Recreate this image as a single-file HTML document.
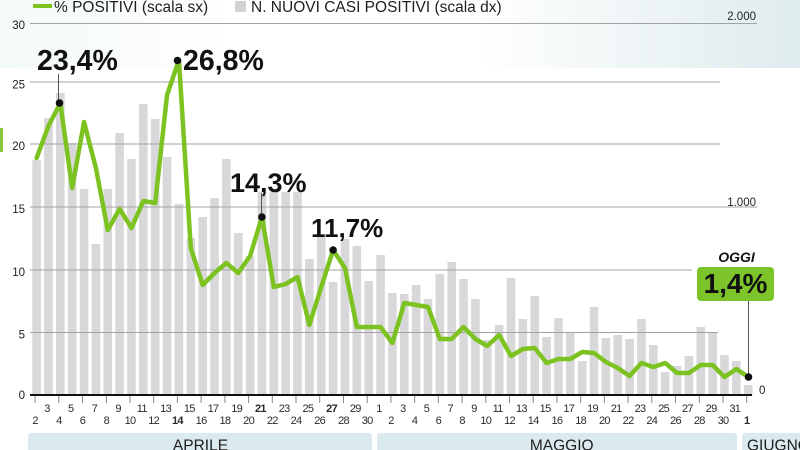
<!DOCTYPE html>
<html>
<head>
<meta charset="utf-8">
<style>
html,body{margin:0;padding:0;background:#fff;}
svg{display:block;}
text{font-family:"Liberation Sans",Arial,sans-serif;}
</style>
</head>
<body>
<svg width="800" height="450" viewBox="0 0 800 450" xmlns="http://www.w3.org/2000/svg">
<defs>
<linearGradient id="tg" x1="0" y1="0" x2="800" y2="0" gradientUnits="userSpaceOnUse">
<stop offset="0" stop-color="#f4f9f9"/>
<stop offset="0.3" stop-color="#ffffff"/>
<stop offset="0.6" stop-color="#ffffff"/>
<stop offset="1" stop-color="#deebed"/>
</linearGradient>
</defs>
<rect x="0" y="0" width="800" height="68" fill="url(#tg)"/>
<rect x="0" y="128" width="3" height="24" fill="#8dc63f"/>

<!-- legend -->
<line x1="33" y1="6" x2="52" y2="6" stroke="#7cc322" stroke-width="4"/>
<text x="54" y="12" font-size="15.5" fill="#1e1e1e">% POSITIVI (scala sx)</text>
<rect x="235" y="1" width="11" height="11" fill="#d3d3d5"/>
<text x="251" y="12" font-size="15.5" fill="#1e1e1e">N. NUOVI CASI POSITIVI (scala dx)</text>

<!-- bars -->
<g fill="#d8d8da">
<rect x="32.3" y="160" width="8.6" height="235"/>
<rect x="44.16" y="118" width="8.6" height="277"/>
<rect x="56.02" y="93" width="8.6" height="302"/>
<rect x="67.88" y="143" width="8.6" height="252"/>
<rect x="79.74" y="189" width="8.6" height="206"/>
<rect x="91.6" y="244" width="8.6" height="151"/>
<rect x="103.46" y="189" width="8.6" height="206"/>
<rect x="115.32" y="133" width="8.6" height="262"/>
<rect x="127.18" y="159" width="8.6" height="236"/>
<rect x="139.04" y="104" width="8.6" height="291"/>
<rect x="150.9" y="119" width="8.6" height="276"/>
<rect x="162.76" y="157" width="8.6" height="238"/>
<rect x="174.62" y="204" width="8.6" height="191"/>
<rect x="186.48" y="238" width="8.6" height="157"/>
<rect x="198.34" y="217" width="8.6" height="178"/>
<rect x="210.2" y="198" width="8.6" height="197"/>
<rect x="222.06" y="159" width="8.6" height="236"/>
<rect x="233.92" y="233" width="8.6" height="162"/>
<rect x="245.78" y="256" width="8.6" height="139"/>
<rect x="257.64" y="192" width="8.6" height="203"/>
<rect x="269.5" y="192" width="8.6" height="203"/>
<rect x="281.36" y="192" width="8.6" height="203"/>
<rect x="293.22" y="192" width="8.6" height="203"/>
<rect x="305.08" y="259" width="8.6" height="136"/>
<rect x="316.94" y="237" width="8.6" height="158"/>
<rect x="328.8" y="282" width="8.6" height="113"/>
<rect x="340.66" y="239" width="8.6" height="156"/>
<rect x="352.52" y="246" width="8.6" height="149"/>
<rect x="364.38" y="281" width="8.6" height="114"/>
<rect x="376.24" y="255" width="8.6" height="140"/>
<rect x="388.1" y="293" width="8.6" height="102"/>
<rect x="399.96" y="294" width="8.6" height="101"/>
<rect x="411.82" y="285" width="8.6" height="110"/>
<rect x="423.68" y="299" width="8.6" height="96"/>
<rect x="435.54" y="274" width="8.6" height="121"/>
<rect x="447.4" y="262" width="8.6" height="133"/>
<rect x="459.26" y="279" width="8.6" height="116"/>
<rect x="471.12" y="299" width="8.6" height="96"/>
<rect x="482.98" y="340" width="8.6" height="55"/>
<rect x="494.84" y="325" width="8.6" height="70"/>
<rect x="506.7" y="278" width="8.6" height="117"/>
<rect x="518.56" y="319" width="8.6" height="76"/>
<rect x="530.42" y="296" width="8.6" height="99"/>
<rect x="542.28" y="337" width="8.6" height="58"/>
<rect x="554.14" y="318" width="8.6" height="77"/>
<rect x="566" y="333" width="8.6" height="62"/>
<rect x="577.86" y="361" width="8.6" height="34"/>
<rect x="589.72" y="307" width="8.6" height="88"/>
<rect x="601.58" y="338" width="8.6" height="57"/>
<rect x="613.44" y="335" width="8.6" height="60"/>
<rect x="625.3" y="339" width="8.6" height="56"/>
<rect x="637.16" y="319" width="8.6" height="76"/>
<rect x="649.02" y="345" width="8.6" height="50"/>
<rect x="660.88" y="372" width="8.6" height="23"/>
<rect x="672.74" y="366" width="8.6" height="29"/>
<rect x="684.6" y="356" width="8.6" height="39"/>
<rect x="696.46" y="327" width="8.6" height="68"/>
<rect x="708.32" y="333" width="8.6" height="62"/>
<rect x="720.18" y="355" width="8.6" height="40"/>
<rect x="732.04" y="361" width="8.6" height="34"/>
<rect x="743.9" y="385" width="8.6" height="10"/>
</g>

<!-- gridlines -->
<g stroke="#a3a3a3" stroke-width="1">
<line x1="30" y1="23.5" x2="757" y2="23.5"/>
<line x1="30" y1="82" x2="720" y2="82"/>
<line x1="30" y1="144" x2="720" y2="144"/>
<line x1="30" y1="207" x2="757" y2="207"/>
<line x1="30" y1="270" x2="692" y2="270"/>
<line x1="30" y1="332.5" x2="718" y2="332.5"/>
</g>

<!-- left axis labels -->
<g font-size="11.5" fill="#222" text-anchor="end">
<text x="25" y="29">30</text>
<text x="25" y="88.5">25</text>
<text x="25" y="150">20</text>
<text x="25" y="213">15</text>
<text x="25" y="276">10</text>
<text x="25" y="338.5">5</text>
<text x="25" y="399">0</text>
</g>
<!-- right axis labels -->
<g font-size="11.5" fill="#222">
<text x="756" y="20" text-anchor="end">2.000</text>
<text x="756" y="206" text-anchor="end">1.000</text>
<text x="759" y="394">0</text>
</g>

<!-- x axis -->
<line x1="30" y1="395" x2="752" y2="395" stroke="#111" stroke-width="2"/>
<g stroke="#888" stroke-width="1">
<line x1="35.1" y1="396" x2="35.1" y2="403"/>
<line x1="58.8" y1="396" x2="58.8" y2="403"/>
<line x1="82.5" y1="396" x2="82.5" y2="403"/>
<line x1="106.3" y1="396" x2="106.3" y2="403"/>
<line x1="130" y1="396" x2="130" y2="403"/>
<line x1="153.7" y1="396" x2="153.7" y2="403"/>
<line x1="177.4" y1="396" x2="177.4" y2="403"/>
<line x1="201.1" y1="396" x2="201.1" y2="403"/>
<line x1="224.9" y1="396" x2="224.9" y2="403"/>
<line x1="248.6" y1="396" x2="248.6" y2="403"/>
<line x1="272.3" y1="396" x2="272.3" y2="403"/>
<line x1="296" y1="396" x2="296" y2="403"/>
<line x1="319.7" y1="396" x2="319.7" y2="403"/>
<line x1="343.5" y1="396" x2="343.5" y2="403"/>
<line x1="367.2" y1="396" x2="367.2" y2="403"/>
<line x1="390.9" y1="396" x2="390.9" y2="403"/>
<line x1="414.6" y1="396" x2="414.6" y2="403"/>
<line x1="438.3" y1="396" x2="438.3" y2="403"/>
<line x1="462.1" y1="396" x2="462.1" y2="403"/>
<line x1="485.8" y1="396" x2="485.8" y2="403"/>
<line x1="509.5" y1="396" x2="509.5" y2="403"/>
<line x1="533.2" y1="396" x2="533.2" y2="403"/>
<line x1="556.9" y1="396" x2="556.9" y2="403"/>
<line x1="580.7" y1="396" x2="580.7" y2="403"/>
<line x1="604.4" y1="396" x2="604.4" y2="403"/>
<line x1="628.1" y1="396" x2="628.1" y2="403"/>
<line x1="651.8" y1="396" x2="651.8" y2="403"/>
<line x1="675.5" y1="396" x2="675.5" y2="403"/>
<line x1="699.3" y1="396" x2="699.3" y2="403"/>
<line x1="723" y1="396" x2="723" y2="403"/>
<line x1="746.7" y1="396" x2="746.7" y2="403"/>
</g>

<!-- day labels -->
<g font-size="11" fill="#2a2a2a" text-anchor="middle" letter-spacing="-0.7">
<text x="35.1" y="424">2</text>
<text x="47" y="412">3</text>
<text x="58.8" y="424">4</text>
<text x="70.7" y="412">5</text>
<text x="82.5" y="424">6</text>
<text x="94.4" y="412">7</text>
<text x="106.3" y="424">8</text>
<text x="118.1" y="412">9</text>
<text x="130" y="424">10</text>
<text x="141.8" y="412">11</text>
<text x="153.7" y="424">12</text>
<text x="165.6" y="412">13</text>
<text x="177.4" y="424" font-weight="bold">14</text>
<text x="189.3" y="412">15</text>
<text x="201.1" y="424">16</text>
<text x="213" y="412">17</text>
<text x="224.9" y="424">18</text>
<text x="236.7" y="412">19</text>
<text x="248.6" y="424">20</text>
<text x="260.4" y="412" font-weight="bold">21</text>
<text x="272.3" y="424">22</text>
<text x="284.2" y="412">23</text>
<text x="296" y="424">24</text>
<text x="307.9" y="412">25</text>
<text x="319.7" y="424">26</text>
<text x="331.6" y="412" font-weight="bold">27</text>
<text x="343.5" y="424">28</text>
<text x="355.3" y="412">29</text>
<text x="367.2" y="424">30</text>
<text x="379" y="412">1</text>
<text x="390.9" y="424">2</text>
<text x="402.8" y="412">3</text>
<text x="414.6" y="424">4</text>
<text x="426.5" y="412">5</text>
<text x="438.3" y="424">6</text>
<text x="450.2" y="412">7</text>
<text x="462.1" y="424">8</text>
<text x="473.9" y="412">9</text>
<text x="485.8" y="424">10</text>
<text x="497.6" y="412">11</text>
<text x="509.5" y="424">12</text>
<text x="521.4" y="412">13</text>
<text x="533.2" y="424">14</text>
<text x="545.1" y="412">15</text>
<text x="556.9" y="424">16</text>
<text x="568.8" y="412">17</text>
<text x="580.7" y="424">18</text>
<text x="592.5" y="412">19</text>
<text x="604.4" y="424">20</text>
<text x="616.2" y="412">21</text>
<text x="628.1" y="424">22</text>
<text x="640" y="412">23</text>
<text x="651.8" y="424">24</text>
<text x="663.7" y="412">25</text>
<text x="675.5" y="424">26</text>
<text x="687.4" y="412">27</text>
<text x="699.3" y="424">28</text>
<text x="711.1" y="412">29</text>
<text x="723" y="424">30</text>
<text x="734.8" y="412">31</text>
<text x="746.7" y="424" font-weight="bold">1</text>
</g>

<!-- month bands -->
<rect x="28" y="433" width="344" height="24" rx="3" fill="#dbeaef"/>
<rect x="377" y="433" width="360" height="24" rx="3" fill="#dbeaef"/>
<rect x="742" y="433" width="70" height="24" rx="3" fill="#dbeaef"/>
<g font-size="15.5" fill="#1e1e1e">
<text x="200.5" y="450.5" text-anchor="middle">APRILE</text>
<text x="561.7" y="450.5" text-anchor="middle">MAGGIO</text>
<text x="747" y="450.5">GIUGNO</text>
</g>

<!-- connectors -->
<g stroke="#555" stroke-width="1">
<line x1="58.5" y1="74" x2="58.5" y2="103"/>
<line x1="261.5" y1="193" x2="261.5" y2="217"/>
<line x1="748.5" y1="301" x2="748.5" y2="377"/>
</g>

<!-- line series -->
<polyline fill="none" stroke="#7cc322" stroke-width="4.5" stroke-linejoin="round" stroke-linecap="round"
points="36.6,158 48.46,126 60.32,103 72.18,188 84.04,122 95.9,168 107.76,230 119.62,209 131.48,228 143.34,201 155.2,203 167.06,95 178.92,60 190.78,248 202.64,285 214.5,273 226.36,263 238.22,273 250.08,256 261.94,217 273.8,287 285.66,284 297.52,277 309.38,325 321.24,287 333.1,250 344.96,268 356.82,327 368.68,327 380.54,327 392.4,343 404.26,303 416.12,305 427.98,307 439.84,339 451.7,339 463.56,327 475.42,339 487.28,346 499.14,335 511,356 522.86,349 534.72,348 546.58,363 558.44,359 570.3,359 582.16,352 594.02,353 605.88,362 617.74,368 629.6,376 641.46,363 653.32,367 665.18,363 677.04,373 688.9,373 700.76,365 712.62,365 724.48,377 736.34,369 748.2,377"/>

<!-- dots -->
<g fill="#111">
<circle cx="59.5" cy="103" r="3.8"/>
<circle cx="177.5" cy="60.5" r="3.8"/>
<circle cx="261.9" cy="217" r="3.8"/>
<circle cx="333.1" cy="250" r="3.8"/>
<circle cx="748.5" cy="377" r="3.8"/>
</g>

<!-- annotations -->
<g font-weight="bold" fill="#111">
<text x="37" y="70" font-size="28.5">23,4%</text>
<text x="183" y="70" font-size="28.5">26,8%</text>
<text x="230" y="192" font-size="27">14,3%</text>
<text x="311" y="237" font-size="26">11,7%</text>
</g>
<text x="736.5" y="262" font-size="14" font-weight="bold" font-style="italic" fill="#111" text-anchor="middle">OGGI</text>
<rect x="697" y="267" width="77" height="34" rx="4" fill="#7dc42b"/>
<text x="735.5" y="293" font-size="28" font-weight="bold" fill="#111" text-anchor="middle">1,4%</text>
</svg>
</body>
</html>
